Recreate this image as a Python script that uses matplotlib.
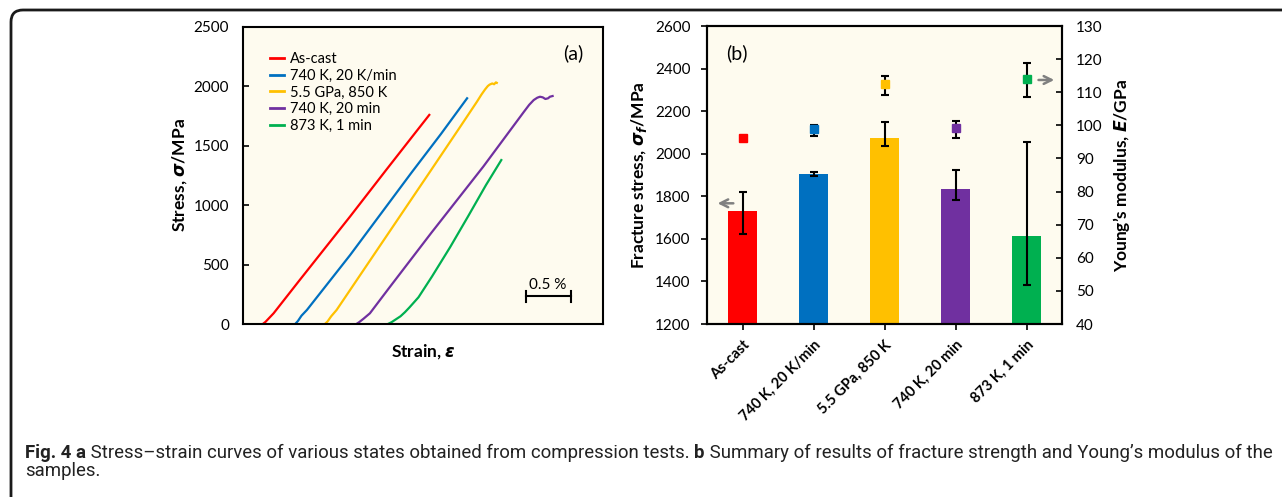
"""Compression test figure: stress-strain curves (a) and fracture stress / modulus summary (b)."""

import matplotlib

matplotlib.use("Agg")
import matplotlib.pyplot as plt
from matplotlib.patches import FancyBboxPatch
import numpy as np

plt.rcParams["font.family"] = ["Lato", "DejaVu Sans"]
plt.rcParams["mathtext.fontset"] = "custom"
plt.rcParams["mathtext.rm"] = "Lato:bold"
plt.rcParams["mathtext.it"] = "DejaVu Sans:italic:bold"
plt.rcParams["mathtext.bf"] = "Lato:bold"

W, H = 1282, 497
CREAM = "#FEFBEF"

states = ["As-cast", "740 K, 20 K/min", "5.5 GPa, 850 K", "740 K, 20 min", "873 K, 1 min"]
colors = ["#FF0000", "#0070C0", "#FFC000", "#7030A0", "#00B050"]

# (a) stress-strain curves, strain in %, stress in MPa
ascast_strain = [0.22, 0.25, 0.29, 0.34, 0.63, 1.19, 1.59, 1.90, 2.07]
ascast_stress = [0, 18, 50, 90, 370, 905, 1296, 1596, 1760]
heat20k_strain = [0.58, 0.61, 0.65, 0.71, 1.19, 1.87, 2.20, 2.49]
heat20k_stress = [0, 25, 70, 118, 580, 1272, 1600, 1900]
hpt_strain = [0.91, 0.94, 0.98, 1.04, 1.49, 2.06, 2.40, 2.60, 2.65, 2.69, 2.72, 2.74, 2.77, 2.79, 2.81, 2.82]
hpt_stress = [0, 22, 65, 118, 623, 1262, 1645, 1872, 1932, 1975, 2003, 2015, 2025, 2018, 2034, 2030]
ann20_strain = [1.26, 1.29, 1.34, 1.41, 1.63, 2.09, 2.67, 3.12, 3.18, 3.23, 3.27, 3.30, 3.33, 3.36, 3.39, 3.41, 3.44]
ann20_stress = [0, 15, 45, 90, 310, 765, 1325, 1785, 1845, 1885, 1905, 1913, 1908, 1894, 1900, 1913, 1919]
ann873_strain = [1.61, 1.65, 1.70, 1.75, 1.80, 1.85, 1.95, 2.10, 2.30, 2.50, 2.70, 2.87]
ann873_stress = [0, 15, 40, 65, 100, 140, 225, 400, 645, 905, 1170, 1380]

curves_strain = [ascast_strain, heat20k_strain, hpt_strain, ann20_strain, ann873_strain]
curves_stress = [ascast_stress, heat20k_stress, hpt_stress, ann20_stress, ann873_stress]

# (b) fracture stress (MPa) with asymmetric error, Young's modulus (GPa)
fracture_mean = [1733, 1905, 2074, 1836, 1612]
fracture_err_low = [109, 8, 38, 53, 231]
fracture_err_high = [87, 8, 77, 87, 443]
modulus_mean = [96.3, 99.0, 112.4, 99.1, 113.9]
modulus_err_low = [0.3, 2.2, 3.1, 2.8, 5.2]
modulus_err_high = [0.3, 1.0, 2.6, 2.1, 4.8]

fig = plt.figure(figsize=(W / 100, H / 100), dpi=100)

# background frame + caption live on a pixel-coordinate overlay
bg = fig.add_axes([0, 0, 1, 1], zorder=-10)
bg.set_xlim(0, W)
bg.set_ylim(H, 0)
bg.axis("off")
bg.add_patch(
    FancyBboxPatch(
        (11, 10), W + 40, H + 40,
        boxstyle="round,pad=0,rounding_size=12",
        fc="white", ec="#1a1a1a", lw=2.0,
    )
)


def _frame(ax):
    for s in ax.spines.values():
        s.set_linewidth(1.5)
        s.set_color("black")


# ---- panel (a)
ax_a = fig.add_axes([243 / W, 1 - 324 / H, 360 / W, 297 / H])
ax_a.set_facecolor(CREAM)
for xs, ys, c, lab in zip(curves_strain, curves_stress, colors, states):
    ax_a.plot(xs, ys, color=c, lw=1.6, label=lab, solid_joinstyle="round")
ax_a.set_xlim(0, 4.0)
ax_a.set_ylim(0, 2500)
ax_a.set_yticks(np.arange(0, 2501, 500))
ax_a.set_xticks([])
ax_a.tick_params(axis="y", direction="in", length=4, width=1.2, pad=10, labelsize=11)
_frame(ax_a)
ax_a.set_xlabel(r"Strain, $\varepsilon$", fontsize=12.5, fontweight="bold", labelpad=13)
ax_a.set_ylabel(r"Stress, $\sigma$/MPa", fontsize=12.5, fontweight="bold", labelpad=3)
leg = ax_a.legend(
    loc="upper left", bbox_to_anchor=(0.074, 0.915), frameon=False,
    handlelength=1.0, handletextpad=0.4, labelspacing=0.18,
    fontsize=10.5, borderpad=0, borderaxespad=0,
)
for h in leg.get_lines():
    h.set_linewidth(2.0)
ax_a.text(0.917, 0.912, "(a)", transform=ax_a.transAxes, ha="center", va="center", fontsize=14)

# 0.5 % strain scale bar
bar_x0, bar_len, bar_y = 3.14, 0.5, 233
ax_a.plot([bar_x0, bar_x0 + bar_len], [bar_y, bar_y], color="black", lw=1.5)
for xe in (bar_x0, bar_x0 + bar_len):
    ax_a.plot([xe, xe], [bar_y - 45, bar_y + 45], color="black", lw=1.5)
ax_a.text(bar_x0 + bar_len / 2, bar_y + 40, "0.5 %", ha="center", va="bottom", fontsize=11)

# ---- panel (b)
ax_b = fig.add_axes([707 / W, 1 - 324 / H, 355 / W, 298 / H])
ax_b.set_facecolor(CREAM)
pos = np.arange(len(states))
ax_b.bar(pos, np.array(fracture_mean) - 1200, bottom=1200, width=0.4, color=colors, zorder=2)
ax_b.errorbar(
    pos, fracture_mean, yerr=[fracture_err_low, fracture_err_high], fmt="none",
    ecolor="black", elinewidth=1.5, capsize=3, capthick=1.5, zorder=3,
)
ax_b.set_xlim(-0.5, len(states) - 0.5)
ax_b.set_ylim(1200, 2600)
ax_b.set_yticks(np.arange(1200, 2601, 200))
ax_b.set_xticks(pos)
ax_b.set_xticklabels(states, rotation=45, ha="right", va="top", rotation_mode="anchor",
                     fontsize=10.5, fontweight="bold")
ax_b.tick_params(axis="y", direction="out", length=4, width=1.2, pad=8, labelsize=11)
ax_b.tick_params(axis="x", direction="out", length=4, width=1.2, pad=6)
_frame(ax_b)
ax_b.set_ylabel(r"Fracture stress, $\sigma_f$/MPa", fontsize=12.5, fontweight="bold", labelpad=4)
ax_b.text(0.085, 0.909, "(b)", transform=ax_b.transAxes, ha="center", va="center", fontsize=14)

ax_e = ax_b.twinx()
for i, c in enumerate(colors):
    ax_e.errorbar(
        pos[i], modulus_mean[i], yerr=[[modulus_err_low[i]], [modulus_err_high[i]]],
        fmt="s", ms=6, mfc=c, mec=c, ecolor="black", elinewidth=1.5, capsize=3, capthick=1.5,
    )
ax_e.set_ylim(40, 130)
ax_e.set_yticks(np.arange(40, 131, 10))
ax_e.tick_params(axis="y", direction="in", length=4, width=1.2, pad=10, labelsize=11)
_frame(ax_e)
ax_e.set_ylabel(r"Young’s modulus, $E$/GPa", fontsize=12.5, fontweight="bold", labelpad=6)

arrow = dict(arrowstyle="->", color="#808080", lw=1.8, mutation_scale=14)
ax_b.annotate("", xy=(-0.39, 1767), xytext=(-0.09, 1767), arrowprops=arrow)
ax_e.annotate("", xy=(4.43, 113.7), xytext=(4.13, 113.7), arrowprops=arrow)

# ---- caption, font size fitted so the first line spans the frame like the original
cap_size = 12.0
cap_font = dict(family=["Roboto", "DejaVu Sans"], color="#222222")
pieces = [
    ("Fig. 4 a", "bold"),
    (" Stress–strain curves of various states obtained from compression tests. ", "normal"),
    ("b", "bold"),
    (" Summary of results of fracture strength and Young’s modulus of the", "normal"),
]
first = bg.text(25, 462, pieces[0][0], fontweight=pieces[0][1], va="bottom", ha="left",
                fontsize=cap_size, **cap_font)
cap_texts = [first]
prev = first
for txt, wt in pieces[1:]:
    prev = bg.annotate(txt, xy=(1, 0), xycoords=prev, va="bottom", ha="left",
                       fontweight=wt, fontsize=cap_size, **cap_font)
    cap_texts.append(prev)
cap_texts.append(bg.text(25, 480, "samples.", va="bottom", ha="left", fontsize=cap_size, **cap_font))

fig.canvas.draw()
rend = fig.canvas.get_renderer()
span = prev.get_window_extent(rend).x1 - first.get_window_extent(rend).x0
fit = cap_size * (1274 - 25) / span
for t in cap_texts:
    t.set_fontsize(fit)

fig.savefig("out.png", dpi=100)
